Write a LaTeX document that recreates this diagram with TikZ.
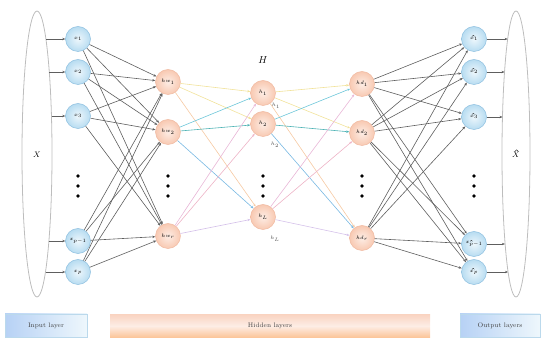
\documentclass[tikz,border=0pt]{standalone}
\usetikzlibrary{arrows.meta}
\definecolor{bluebd}{HTML}{8DBFDF}
\definecolor{bluein}{HTML}{EEF7FC}
\definecolor{blueout}{HTML}{B7DCF1}
\definecolor{orbd}{HTML}{F0B9A0}
\definecolor{orin}{HTML}{FDEDE5}
\definecolor{orout}{HTML}{F8C9B2}
\definecolor{grayln}{HTML}{5E5E5E}
\definecolor{ellc}{HTML}{BDBDBD}
\definecolor{cyel}{HTML}{F1E29A}
\definecolor{cpeach}{HTML}{F6C9A2}
\definecolor{ccyan}{HTML}{6CC6D9}
\definecolor{cteal}{HTML}{4FB3B5}
\definecolor{cblue}{HTML}{78B8E2}
\definecolor{cpink}{HTML}{E8B6D6}
\definecolor{crose}{HTML}{EDB3C6}
\definecolor{clav}{HTML}{D5C2EA}
\begin{document}
\begin{tikzpicture}[x=1pt,y=-1pt,
  inn/.style={circle,minimum size=25pt,inner sep=0pt,draw=bluebd,line width=0.5pt,inner color=bluein,outer color=blueout,font=\fontsize{5}{6}\selectfont},
  hid/.style={circle,minimum size=25pt,inner sep=0pt,draw=orbd,line width=0.5pt,inner color=orin,outer color=orout,font=\fontsize{5}{6}\selectfont},
  gr/.style={draw=grayln,line width=0.6pt,-{Stealth[length=3pt,width=2.4pt]}},
  col/.style={line width=0.6pt,-{Stealth[length=3pt,width=2.4pt]}},
  dotn/.style={circle,fill=black,inner sep=0pt,minimum size=3.6pt},
  sml/.style={font=\fontsize{4.5}{5}\selectfont,text=black!70},
  bx/.style={minimum height=23pt,inner sep=0pt,font=\fontsize{6.5}{8}\selectfont,text=black!75},
  hatmark/.pic={\draw[black,line width=0.3pt] (-1.1,0) -- (0,-1) -- (1.1,0);}]
\useasboundingbox (0,0) rectangle (542,339);
% ellipses
\draw[ellc,line width=0.8pt] (37,154) ellipse [x radius=15pt,y radius=143pt];
\draw[ellc,line width=0.8pt] (516,154) ellipse [x radius=14pt,y radius=143pt];
\node[font=\fontsize{8}{9}\selectfont] (X) at (37,155) {$X$};
\node[font=\fontsize{8}{9}\selectfont] (Xh) at (516,155) {$X$};
\pic[scale=1.7] at (516.6,151.5) {hatmark};
\node[font=\fontsize{10}{11}\selectfont] (H) at (263,60) {$H$};
% input nodes
\node[inn] (x1) at (78,39) {$x_1$};
\node[inn] (x2) at (78,72) {$x_2$};
\node[inn] (x3) at (78,116) {$x_3$};
\node[inn] (xp1) at (78,241) {$x_{p-1}$};
\node[inn] (xp) at (78,272) {$x_p$};
% hw nodes
\node[hid] (hw1) at (168,82) {$hw_1$};
\node[hid] (hw2) at (168,132) {$hw_2$};
\node[hid] (hwr) at (168,236) {$hw_r$};
% h nodes
\node[hid] (h1) at (263,93) {$h_1$};
\node[hid] (h2) at (263,124) {$h_2$};
\node[hid] (hL) at (263,217) {$h_L$};
% hd nodes
\node[hid] (hd1) at (362,84) {$hd_1$};
\node[hid] (hd2) at (362,133) {$hd_2$};
\node[hid] (hdr) at (362,238) {$hd_r$};
% output nodes (hats drawn as marks)
\node[inn] (y1) at (474,39) {$x_1$};
\node[inn] (y2) at (474,72) {$x_2$};
\node[inn] (y3) at (474,117) {$x_3$};
\node[inn] (yp1) at (474,244) {$x_{p-1}$};
\node[inn] (yp) at (474,272) {$x_p$};
\pic at (473.3,36.3) {hatmark};
\pic at (473.3,69.3) {hatmark};
\pic at (473.3,114.3) {hatmark};
\pic at (471.3,241.3) {hatmark};
\pic at (473.2,269.3) {hatmark};
% small labels
\node[sml] (b1) at (276,106) {$h_1$};
\node[sml] (b2) at (275,145) {$h_2$};
\node[sml] (bL) at (275,239) {$h_L$};
% dots
\foreach \xx/\nm in {78/a,168/b,263/c,362/d,474/e}{
  \node[dotn] (\nm1) at (\xx,176) {};
  \node[dotn] (\nm2) at (\xx,186) {};
  \node[dotn] (\nm3) at (\xx,196) {};
}
% ellipse border coordinates
\coordinate (e1) at (45.8,39);
\coordinate (e2) at (49.3,72);
\coordinate (e3) at (51.5,116);
\coordinate (e4) at (48.8,241);
\coordinate (e5) at (45.5,272);
\coordinate (f1) at (507.7,39);
\coordinate (f2) at (504.5,72);
\coordinate (f3) at (502.5,117);
\coordinate (f4) at (504.9,244);
\coordinate (f5) at (508,272);
\draw[gr] (e1) -- (x1);
\draw[gr] (e2) -- (x2);
\draw[gr] (e3) -- (x3);
\draw[gr] (e4) -- (xp1);
\draw[gr] (e5) -- (xp);
\draw[gr] (y1) -- (f1);
\draw[gr] (y2) -- (f2);
\draw[gr] (y3) -- (f3);
\draw[gr] (yp1) -- (f4);
\draw[gr] (yp) -- (f5);
% input -> hw
\foreach \s in {x1,x2,x3,xp1,xp}{
  \foreach \t in {hw1,hw2,hwr}{
    \draw[gr] (\s) -- (\t);
  }
}
% hd -> output
\foreach \s in {hd1,hd2,hdr}{
  \foreach \t in {y1,y2,y3,yp1,yp}{
    \draw[gr] (\s) -- (\t);
  }
}
% hw -> h
\draw[col,cyel] (hw1) -- (h1);
\draw[col,cyel] (hw1) -- (h2);
\draw[col,cpeach] (hw1) -- (hL);
\draw[col,ccyan] (hw2) -- (h1);
\draw[col,cteal] (hw2) -- (h2);
\draw[col,cblue] (hw2) -- (hL);
\draw[col,cpink] (hwr) -- (h1);
\draw[col,crose] (hwr) -- (h2);
\draw[col,clav] (hwr) -- (hL);
% h -> hd
\draw[col,cyel] (h1) -- (hd1);
\draw[col,cyel] (h1) -- (hd2);
\draw[col,cpeach] (h1) -- (hdr);
\draw[col,ccyan] (h2) -- (hd1);
\draw[col,cteal] (h2) -- (hd2);
\draw[col,cblue] (h2) -- (hdr);
\draw[col,cpink] (hL) -- (hd1);
\draw[col,crose] (hL) -- (hd2);
\draw[col,clav] (hL) -- (hdr);
% bottom boxes
\node[bx,minimum width=82pt,left color=blueout!90!blue!80,right color=bluein,draw=bluebd!60] (inl) at (46,325.5) {Input layer};
\node[bx,minimum width=320pt,top color=orout!80,bottom color=orout!60!orange!70,middle color=orin] (hl) at (270,326) {Hidden layers};
\node[bx,minimum width=80pt,left color=blueout!90!blue!80,right color=bluein,draw=bluebd!60] (outl) at (500,325.5) {Output layers};
\end{tikzpicture}
\end{document}
